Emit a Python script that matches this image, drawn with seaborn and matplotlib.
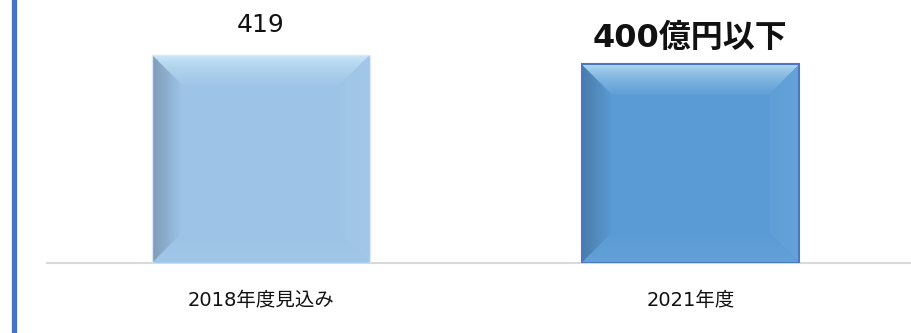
import numpy as np
import pandas as pd
import matplotlib
matplotlib.use("Agg")
import matplotlib.pyplot as plt
import seaborn as sns
from matplotlib.patches import Polygon
from matplotlib.colors import to_rgb

categories = ["2018年度見込み", "2021年度"]
values = [419, 400]
value_labels = ["419", "400億円以下"]
bar_colors = ["#9DC3E6", "#5B9BD5"]

sns.set_theme(style="white")
plt.rcParams["font.family"] = ["DejaVu Sans", "Noto Sans CJK JP"]

W, H = 912, 333
fig = plt.figure(figsize=(W / 100, H / 100), dpi=100)
ax_left, ax_right = 47, 912
base_y = 263
ax = fig.add_axes([ax_left / W, (H - base_y) / H, (ax_right - ax_left) / W, base_y / H])

df = pd.DataFrame({"cat": categories, "val": values})
sns.barplot(data=df, x="cat", y="val", hue="cat", palette=bar_colors,
            width=0.507, legend=False, ax=ax, saturation=1)

ax.set_ylim(0, 529.8)
ax.set_xlim(-0.498, 1.516)
ax.set_xlabel("")
ax.set_ylabel("")
ax.set_yticks([])
for s in ["top", "right", "left"]:
    ax.spines[s].set_visible(False)
ax.spines["bottom"].set_color("#D9D9D9")
ax.spines["bottom"].set_linewidth(1.5)
ax.tick_params(axis="x", length=0, pad=20, labelsize=14, colors="#111111")

# pixel -> data scales
px_x = (ax_right - ax_left) / (1.516 + 0.498)
px_y = base_y / 529.8
b = 30.0
bx, by = b / px_x, b / px_y

CYAN = np.array([0.86, 0.97, 1.0])


def shade(c, f):
    c = np.array(to_rgb(c))
    if f >= 0:
        return tuple(c + (1 - c) * f)
    return tuple(c * (1 + f))


def tint(c, f):
    c = np.array(to_rgb(c))
    return tuple(c * (1 - f) + CYAN * f)


def grad_poly(ax, verts, c_from, c_to, direction, extent, gamma=1.0):
    poly = Polygon(verts, closed=True, facecolor="none", edgecolor="none")
    ax.add_patch(poly)
    n = 64
    t = np.linspace(0, 1, n) ** gamma
    c1 = np.array(c_from)
    c2 = np.array(c_to)
    cols = c1[None, :] * (1 - t[:, None]) + c2[None, :] * t[:, None]
    if direction == "v":  # top -> bottom
        img = cols[:, None, :]
    elif direction == "vu":  # bottom -> top
        img = cols[::-1][:, None, :]
    elif direction == "h":  # left -> right
        img = cols[None, :, :]
    else:  # right -> left
        img = cols[::-1][None, :, :]
    im = ax.imshow(img, extent=extent, aspect="auto", origin="upper",
                   interpolation="bilinear", zorder=3)
    im.set_clip_path(poly)


for i, p in enumerate(ax.patches):
    x0 = p.get_x()
    x1 = x0 + p.get_width()
    y0 = 0
    y1 = p.get_height()
    base = bar_colors[i]
    # top bevel (cyan highlight)
    grad_poly(ax, [(x0, y1), (x1, y1), (x1 - bx, y1 - by), (x0 + bx, y1 - by)],
              tint(base, 0.75), tint(base, 0.05), "v", (x0, x1, y1 - by, y1), gamma=0.6)
    # left bevel (darker)
    grad_poly(ax, [(x0, y1), (x0 + bx, y1 - by), (x0 + bx, y0 + by), (x0, y0)],
              shade(base, -0.2), shade(base, 0.0), "h", (x0, x0 + bx, y0, y1))
    # right bevel (lighter)
    grad_poly(ax, [(x1, y1), (x1 - bx, y1 - by), (x1 - bx, y0 + by), (x1, y0)],
              tint(base, 0.08), tint(base, 0.03), "hr", (x1 - bx, x1, y0, y1))
    # bottom bevel
    grad_poly(ax, [(x0, y0), (x1, y0), (x1 - bx, y0 + by), (x0 + bx, y0 + by)],
              tint(base, 0.06), shade(base, 0.0), "vu", (x0, x1, y0, y0 + by))
    if i == 1:
        p.set_edgecolor("#4A78C2")
        p.set_linewidth(1.5)
    else:
        p.set_edgecolor("#DCE9F5")
        p.set_linewidth(1.0)
    p.set_zorder(4)
    p.set_facecolor("none")
    ax.add_patch(plt.Rectangle((x0, y0), x1 - x0, y1, facecolor=base,
                               edgecolor="none", zorder=2))

# value labels
ax.text(0, 419 + (263 - 25 - 208) / px_y, value_labels[0], ha="center", va="center",
        fontsize=18, color="#111111")
ax.text(1, 400 + (263 - 38 - 400 * px_y) / px_y, value_labels[1], ha="center",
        va="center", fontsize=23, fontweight="bold", color="#111111")
for t in ax.texts:
    t.set_clip_on(False)

# left blue border line
fig.add_artist(plt.Line2D([14.5 / W, 14.5 / W], [0, 1], color="#4472C4",
                          linewidth=3.8, transform=fig.transFigure))

fig.savefig("out.png", dpi=100, facecolor="white")
